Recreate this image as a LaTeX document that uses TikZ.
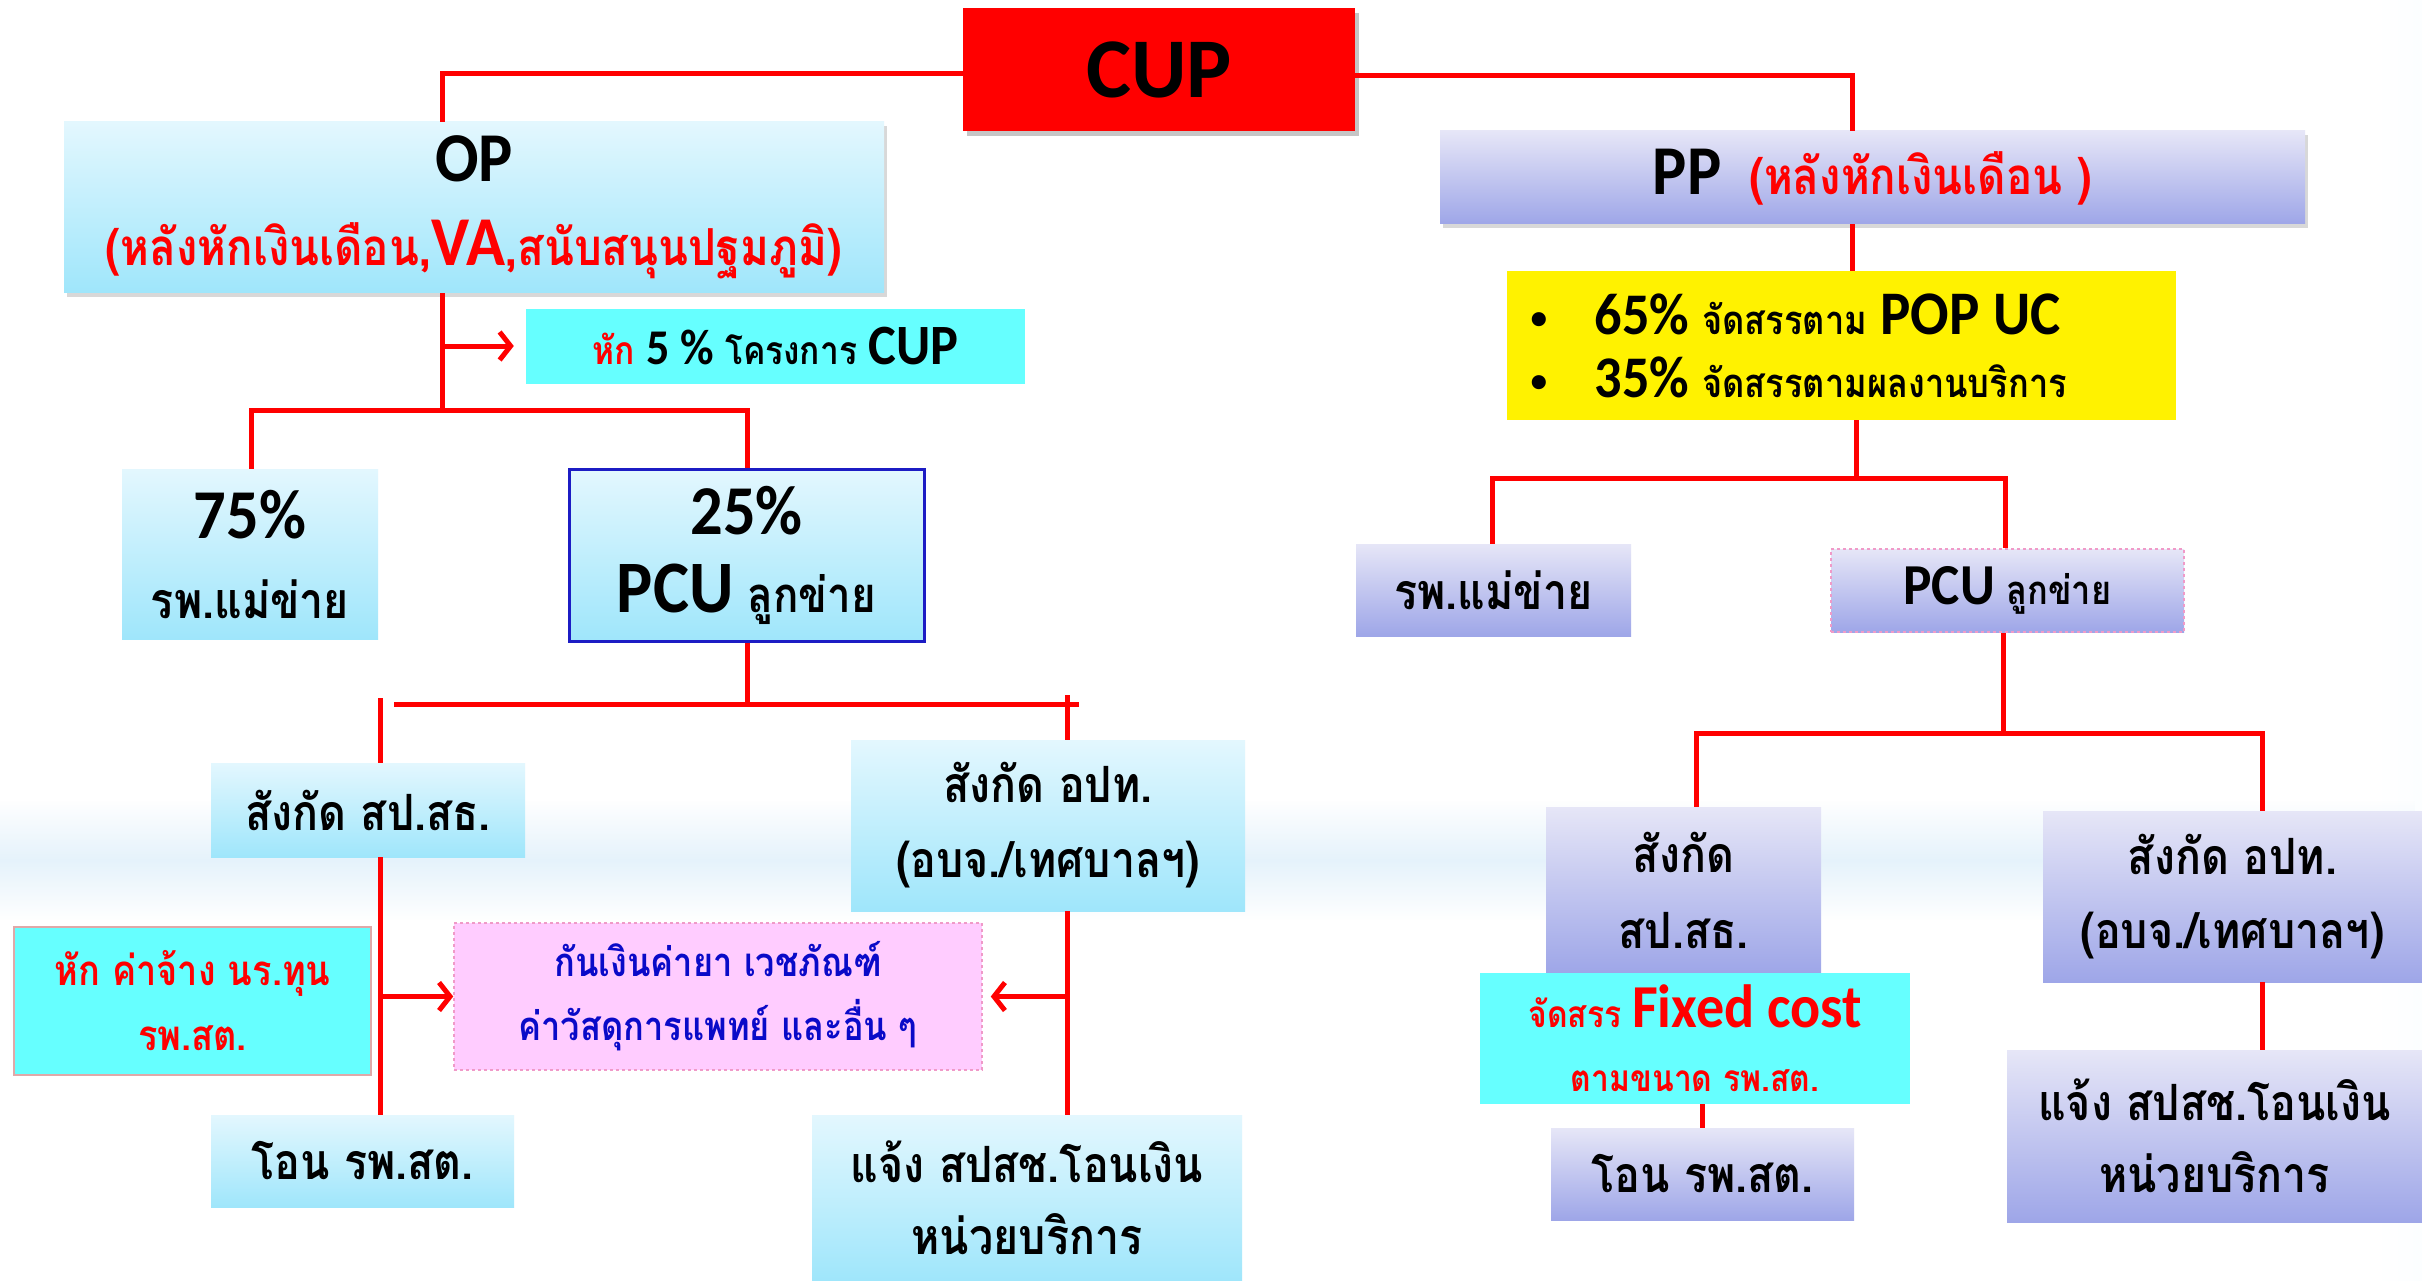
\documentclass[tikz,border=0pt]{standalone}
\usepackage{fontspec}
\setmainfont[Script=Thai,FakeStretch=0.86]{Loma}
\newfontfamily\latf[FakeStretch=0.92]{Carlito}
\newfontfamily\latw{Carlito}
\newfontfamily\symf{DejaVu Sans}
\usetikzlibrary{arrows.meta,shadows,fadings}
\definecolor{bgblue}{HTML}{AED8F6}
\definecolor{opTop}{HTML}{E3F7FE}
\definecolor{opBot}{HTML}{9FE6FB}
\definecolor{lavTop}{HTML}{E6E6F7}
\definecolor{lavBot}{HTML}{9EA6E8}
\definecolor{cyanflat}{HTML}{66FFFF}
\definecolor{pinkfill}{HTML}{FFCCFF}
\definecolor{pinkline}{HTML}{F09AC8}
\definecolor{redline}{HTML}{FF0000}
\definecolor{boxblue}{HTML}{1C1CC4}
\definecolor{txtblue}{HTML}{0A0AC8}
\definecolor{greyred}{HTML}{E0A8A8}
\definecolor{hazeblue}{HTML}{BFE0F6}
\newcommand\fs[2]{\fontsize{#1}{#2}\selectfont}
\newcommand\lat[1]{{\latf #1}}
\pgfdeclarehorizontalshading{bgsh}{100bp}{color(0bp)=(bgblue); color(22bp)=(white); color(74bp)=(white); color(100bp)=(bgblue)}
\tikzfading[name=bandfade,top color=transparent!100,bottom color=transparent!100,middle color=transparent!0]
\begin{document}
\begin{tikzpicture}[x=1pt,y=-1pt,
  conn/.style={draw=redline,line width=5pt},
  arr/.style={conn,-{Straight Barb[length=11pt,width=28pt,line width=5pt]}},
  basebox/.style={inner sep=0pt,align=center},
  cyanbox/.style={basebox,top color=opTop,bottom color=opBot,draw=none},
  lavbox/.style={basebox,top color=lavTop,bottom color=lavBot,draw=none},
  flatcyan/.style={basebox,fill=cyanflat,draw=none},
  softshadow/.style={drop shadow={shadow xshift=3pt,shadow yshift=-4pt,opacity=0.25,fill=black!60}}
]
\shade[shading=bgsh] (0,0) rectangle (2422,1281);
\fill[hazeblue,opacity=0.4,path fading=bandfade] (0,800) rectangle (2422,920);
\useasboundingbox (0,0) rectangle (2422,1281);

% ---------- nodes ----------
\node[basebox,fill=redline,drop shadow={shadow xshift=4pt,shadow yshift=-5pt,opacity=0.45},minimum width=392,minimum height=123,font=\latw\bfseries\fs{85}{90}] (cup) at (1159,69.5) {CUP};

\node[cyanbox,softshadow,minimum width=820,minimum height=171,font=\bfseries\fs{51}{84}] (op) at (474,207.5)
  {\lat{\fs{70}{84}OP}\\{\color{red}(หลังหักเงินเดือน,\lat{\fs{70}{84}VA},สนับสนุนปฐมภูมิ)}};

\node[flatcyan,minimum width=499,minimum height=75,font=\bfseries\fs{39}{50}] (cut5) at (775.5,346.5)
  {{\color{red}หัก} \lat{\fs{50}{50}5 \%} โครงการ \lat{\fs{57}{50}CUP}};

\node[cyanbox,minimum width=256,minimum height=170,font=\bfseries\fs{50}{80}] (m75) at (250,554)
  {\lat{\fs{70}{80}75\%}\\รพ.แม่ข่าย};

\node[cyanbox,draw=boxblue,line width=3pt,minimum width=355,minimum height=172,font=\bfseries\fs{49}{78}] (p25) at (746.5,555)
  {\lat{\fs{70}{78}25\%}\\\lat{\fs{74}{78}PCU} ลูกข่าย};

\node[cyanbox,minimum width=314,minimum height=94,font=\bfseries\fs{50}{60}] (spsth) at (368,810)
  {สังกัด สป.สธ.};

\node[cyanbox,minimum width=394,minimum height=171,font=\bfseries\fs{50}{75}] (opt) at (1048,825.5)
  {สังกัด อปท.\\(อบจ./เทศบาลฯ)};

\node[flatcyan,draw=greyred,line width=2pt,minimum width=357,minimum height=148,text=red,font=\bfseries\fs{42}{65}] (deduct) at (192.5,1001)
  {หัก ค่าจ้าง นร.ทุน\\รพ.สต.};

\node[basebox,fill=pinkfill,draw=pinkline,dashed,line width=1.5pt,minimum width=528,minimum height=147,text=txtblue,font=\bfseries\fs{40}{64}] (pink) at (718,996.5)
  {กันเงินค่ายา เวชภัณฑ์\\ค่าวัสดุการแพทย์ และอื่น ๆ};

\node[cyanbox,minimum width=303,minimum height=92,font=\bfseries\fs{50}{60}] (transfer) at (362.5,1161)
  {โอน รพ.สต.};

\node[cyanbox,minimum width=430,minimum height=166,font=\bfseries\fs{50}{72}] (notify) at (1027,1198)
  {แจ้ง สปสช.โอนเงิน\\หน่วยบริการ};

\node[lavbox,softshadow,minimum width=865,minimum height=93,font=\bfseries\fs{51}{70}] (pp) at (1872.5,177.5)
  {\lat{\fs{70}{70}PP}\hspace{28pt}{\color{red}(หลังหักเงินเดือน )}};

\node[basebox,fill=yellow,minimum width=669,minimum height=149,text width=630,align=left,font=\bfseries\fs{40}{63}] (yellow) at (1841.5,345.5)
  {\makebox[68pt][l]{\symf\fs{40}{63}•}\lat{\fs{59}{63}65\%} จัดสรรตาม \lat{\fs{62}{63}POP UC}\\
   \makebox[68pt][l]{\symf\fs{40}{63}•}\lat{\fs{59}{63}35\%} จัดสรรตามผลงานบริการ};

\node[lavbox,minimum width=275,minimum height=92,font=\bfseries\fs{50}{60}] (m2) at (1493.5,590)
  {รพ.แม่ข่าย};

\node[lavbox,draw=pinkline,dashed,line width=1.5pt,minimum width=353,minimum height=83,font=\bfseries\fs{40}{60}] (pcu2) at (2007.5,590.5)
  {\lat{\fs{58}{60}PCU} ลูกข่าย};

\node[lavbox,minimum width=275,minimum height=166,font=\bfseries\fs{50}{76}] (spsth2) at (1683.5,890)
  {สังกัด\\สป.สธ.};

\node[flatcyan,minimum width=430,minimum height=131,text=red,font=\bfseries\fs{37}{64}] (fixed) at (1695,1038.5)
  {จัดสรร \lat{\fs{61}{64}Fixed cost}\\ตามขนาด รพ.สต.};

\node[lavbox,minimum width=303,minimum height=92,font=\bfseries\fs{50}{60}] (transfer2) at (1702.5,1174)
  {โอน รพ.สต.};

\node[lavbox,minimum width=379,minimum height=171,font=\bfseries\fs{50}{74}] (opt2) at (2232.5,896.5)
  {สังกัด อปท.\\(อบจ./เทศบาลฯ)};

\node[lavbox,minimum width=415,minimum height=172,font=\bfseries\fs{50}{72}] (notify2) at (2214.5,1136)
  {แจ้ง สปสช.โอนเงิน\\หน่วยบริการ};

% ---------- connectors ----------
\coordinate (jcupL) at (442,74);
\draw[conn] (cup.west |- jcupL) -- (jcupL) -- (jcupL |- op.north);
\coordinate (jcupR) at (1852,76);
\draw[conn] (cup.east |- jcupR) -- (jcupR) -- (jcupR |- pp.north);

\coordinate (jop) at (442,410);
\draw[conn] (jop |- op.south) -- (jop);
\coordinate (jarr5) at (442,346);
\draw[arr] (jarr5) -- ([xshift=-12pt]cut5.west |- jarr5);
\coordinate (b1L) at (251,410);
\coordinate (b1R) at (747,410);
\draw[conn] (b1L |- m75.north) -- (b1L) -- (b1R) -- (b1R |- p25.north);

\coordinate (jp25) at (747,704);
\draw[conn] (jp25 |- p25.south) -- (jp25);
\coordinate (b2L) at (380,704);
\coordinate (b2S) at (394,704);
\coordinate (b2R) at (1067,704);
\coordinate (b2E) at (1079,704);
\draw[conn] (b2L |- spsth.north) -- ([yshift=6pt]b2L);
\draw[conn] (b2S) -- (b2E);
\draw[conn] (b2R |- opt.north) -- ([yshift=9pt]b2R);
\draw[conn] (b2L |- spsth.south) -- (b2L |- transfer.north);
\draw[arr] (b2L |- pink.west) -- (pink.west);
\draw[conn] (b2R |- opt.south) -- (b2R |- notify.north);
\draw[arr] (b2R |- pink.east) -- ([xshift=8pt]pink.east);

\draw[conn] (jcupR |- pp.south) -- (jcupR |- yellow.north);
\coordinate (jy) at (1856,478);
\draw[conn] (jy |- yellow.south) -- (jy);
\coordinate (b3L) at (1492,478);
\coordinate (b3R) at (2005,478);
\draw[conn] (b3L |- m2.north) -- (b3L) -- (b3R) -- (b3R |- pcu2.north);
\coordinate (jpcu) at (2003,733);
\draw[conn] (jpcu |- pcu2.south) -- (jpcu);
\coordinate (b4L) at (1696,733);
\coordinate (b4R) at (2262,733);
\draw[conn] (b4L |- spsth2.north) -- (b4L) -- (b4R) -- (b4R |- opt2.north);
\draw[conn] (transfer2.north |- fixed.south) -- (transfer2.north);
\draw[conn] (b4R |- opt2.south) -- (b4R |- notify2.north);
\end{tikzpicture}
\end{document}
